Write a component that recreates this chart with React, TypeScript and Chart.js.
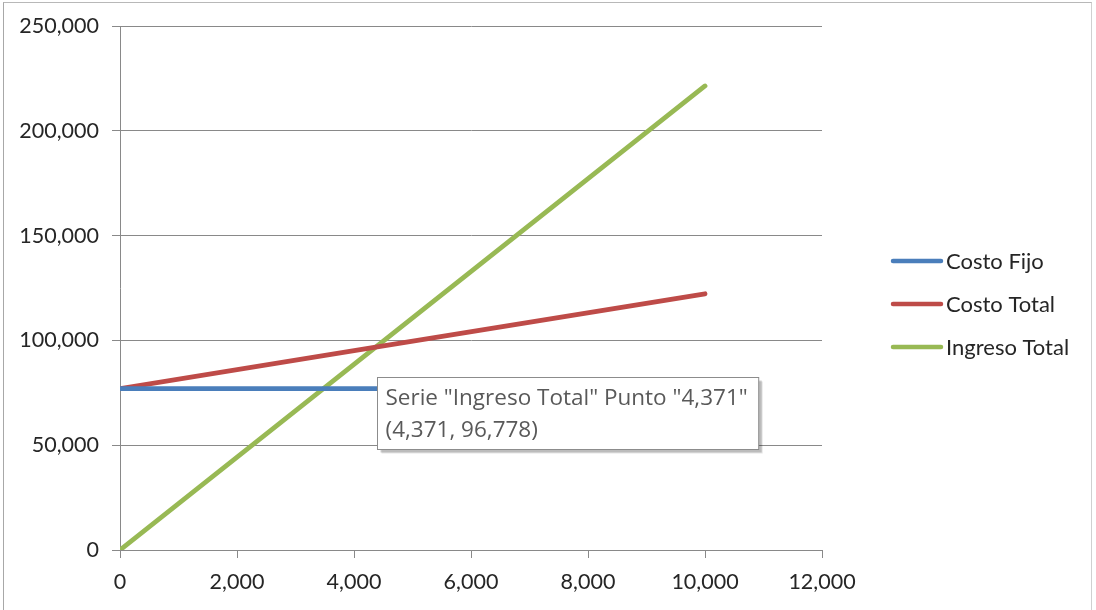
import React, { useEffect, useRef } from "react";
import { Chart, registerables } from "chart.js";

Chart.register(...registerables);

// ---- data ----
const UNITS: number[] = [0, 4371, 10000];
const COSTO_FIJO: number[] = [77000, 77000, 77000];
const COSTO_TOTAL: number[] = [77000, 96778, 122248];
const INGRESO_TOTAL: number[] = [0, 96778, 221409];

const SERIES_NAMES: string[] = ["Costo Fijo", "Costo Total", "Ingreso Total"];
const SERIES_COLORS: string[] = ["#4A7EBB", "#BE4B48", "#98B954"];

const X_TICKS: number[] = [0, 2000, 4000, 6000, 8000, 10000, 12000];
const Y_TICKS: number[] = [0, 50000, 100000, 150000, 200000, 250000];

const TOOLTIP_POINT = { x: 4371, y: 96778 };
const TOOLTIP_LINES: string[] = ['Serie "Ingreso Total" Punto "4,371"', "(4,371, 96,778)"];

const fmt = (v: number) => Number(v).toLocaleString("en-US");

const FONT_FAMILY = "Lato, 'Open Sans', sans-serif";
const TEXT_COLOR = "#262626";
const GRID_COLOR = "#898989";

const customLegend = {
  id: "customLegend",
  afterDraw(chart: any) {
    const { ctx, chartArea } = chart;
    const ds = chart.data.datasets;
    const x0 = chartArea.right + 71;
    const cy = chart.height / 2 - 4;
    const gap = 43;
    ctx.save();
    ctx.font = `22px ${FONT_FAMILY}`;
    ctx.textBaseline = "middle";
    ctx.textAlign = "left";
    ds.forEach((d: any, i: number) => {
      const y = cy + (i - (ds.length - 1) / 2) * gap;
      ctx.strokeStyle = d.borderColor;
      ctx.lineWidth = 4.5;
      ctx.lineCap = "round";
      ctx.beginPath();
      ctx.moveTo(x0, y);
      ctx.lineTo(x0 + 48, y);
      ctx.stroke();
      ctx.fillStyle = TEXT_COLOR;
      ctx.fillText(d.label, x0 + 53, y + 1);
    });
    ctx.restore();
  },
};

const staticTooltip = {
  id: "staticTooltip",
  afterDraw(chart: any) {
    const { ctx, scales } = chart;
    const px = scales.x.getPixelForValue(TOOLTIP_POINT.x);
    const py = scales.y.getPixelForValue(TOOLTIP_POINT.y);
    const left = Math.round(px + 1) + 0.5;
    const top = Math.round(py + 30) + 0.5;
    ctx.save();
    ctx.font = `22.5px 'Open Sans', 'Noto Sans', sans-serif`;
    const w = Math.max(...TOOLTIP_LINES.map((t) => ctx.measureText(t).width)) + 19;
    const h = 72;
    // shadow
    ctx.fillStyle = "rgba(0,0,0,0.18)";
    ctx.fillRect(left + 3, top + 3, w, h);
    ctx.fillStyle = "rgba(0,0,0,0.10)";
    ctx.fillRect(left + 4, top + 4, w, h);
    ctx.fillStyle = "#ffffff";
    ctx.fillRect(left, top, w, h);
    ctx.strokeStyle = "#8c8c8c";
    ctx.lineWidth = 1;
    ctx.strokeRect(left, top, w, h);
    ctx.fillStyle = "#595959";
    ctx.textBaseline = "middle";
    ctx.textAlign = "left";
    TOOLTIP_LINES.forEach((t, i) => {
      ctx.fillText(t, left + 8, top + 21 + i * 32);
    });
    ctx.restore();
  },
};

export default function App() {
  const ref = useRef<HTMLCanvasElement | null>(null);

  useEffect(() => {
    if (!ref.current) return;
    const seriesValues = [COSTO_FIJO, COSTO_TOTAL, INGRESO_TOTAL];
    const chart = new Chart(ref.current, {
      type: "scatter",
      data: {
        datasets: seriesValues.map((vals, i) => ({
          label: SERIES_NAMES[i],
          data: UNITS.map((u, j) => ({ x: u, y: vals[j] })),
          showLine: true,
          borderColor: SERIES_COLORS[i],
          backgroundColor: SERIES_COLORS[i],
          borderWidth: 4.8,
          borderCapStyle: "round",
          pointRadius: 0,
          pointHoverRadius: 0,
          tension: 0,
        })),
      },
      options: {
        animation: false,
        responsive: false,
        layout: { padding: { top: 23, right: 269, bottom: 0, left: 0 } },
        plugins: {
          legend: { display: false },
          tooltip: { enabled: false },
        },
        events: [],
        scales: {
          x: {
            type: "linear",
            min: 0,
            max: 12000,
            afterBuildTicks: (scale: any) => {
              scale.ticks = X_TICKS.map((v) => ({ value: v }));
            },
            afterFit: (scale: any) => {
              scale.height = 63;
              scale.paddingLeft = 0;
              scale.paddingRight = 0;
            },
            ticks: {
              callback: (v: any) => fmt(v),
              font: { family: FONT_FAMILY, size: 21.5 },
              color: TEXT_COLOR,
              padding: 11,
              maxRotation: 0,
              autoSkip: false,
            },
            grid: {
              display: true,
              drawOnChartArea: false,
              drawTicks: true,
              tickLength: 8,
              color: GRID_COLOR,
            },
            border: { color: GRID_COLOR, width: 1 },
          },
          y: {
            type: "linear",
            min: 0,
            max: 250000,
            afterBuildTicks: (scale: any) => {
              scale.ticks = Y_TICKS.map((v) => ({ value: v }));
            },
            afterFit: (scale: any) => {
              scale.width = 116;
              scale.paddingTop = 0;
              scale.paddingBottom = 0;
            },
            ticks: {
              callback: (v: any) => fmt(v),
              font: { family: FONT_FAMILY, size: 21.5 },
              color: TEXT_COLOR,
              padding: 13,
              autoSkip: false,
            },
            grid: {
              color: GRID_COLOR,
              tickLength: 8,
            },
            border: { color: GRID_COLOR, width: 1 },
          },
        },
      },
      plugins: [customLegend, staticTooltip],
    });
    return () => chart.destroy();
  }, []);

  return (
    <div
      style={{
        position: "fixed",
        left: 0,
        top: 0,
        width: 1096,
        height: 610,
        background: "#ffffff",
        overflow: "hidden",
      }}
    >
      <div
        style={{
          position: "absolute",
          left: 3,
          top: 2,
          width: 1087,
          height: 620,
          borderTop: "1px solid #b8b8b8",
          borderLeft: "1px solid #a8a8a8",
          borderRight: "1px solid #d0d0d0",
          background: "#ffffff",
        }}
      >
        <canvas ref={ref} width={1087} height={610} style={{ display: "block" }} />
      </div>
    </div>
  );
}
